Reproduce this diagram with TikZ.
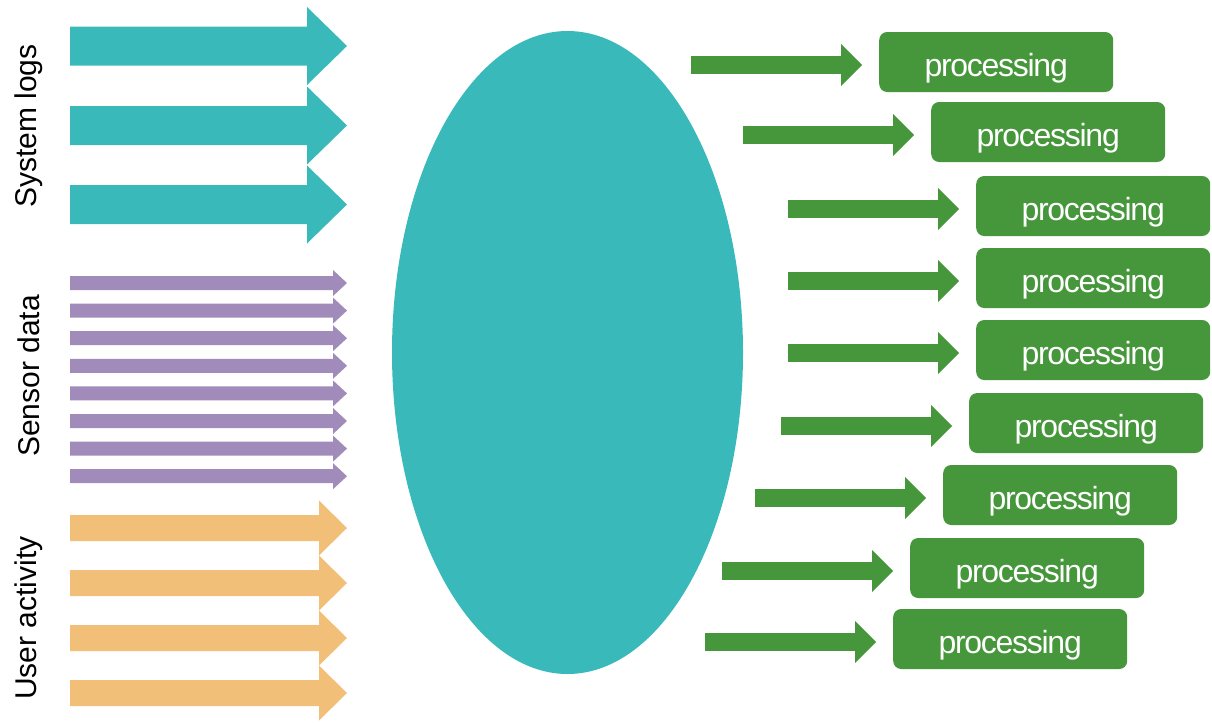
\documentclass[tikz,border=0pt]{standalone}
\usepackage{fontspec}
\setmainfont{Liberation Sans}
\newfontfamily\boxfont[LetterSpace=-4]{Liberation Sans}
\usetikzlibrary{shapes.geometric}
\usetikzlibrary{positioning}
\usetikzlibrary{arrows.meta}

\definecolor{logteal}{HTML}{3AB9BA}
\definecolor{sensorpurple}{HTML}{A08BBA}
\definecolor{activityorange}{HTML}{F2BF79}
\definecolor{procgreen}{HTML}{46973B}

\tikzset{
  grouplabel/.style={rotate=90, inner sep=0pt, font=\fontsize{30}{36}\selectfont},
  procbox/.style={fill=procgreen, rounded corners=8pt, minimum width=234pt,
    minimum height=60pt, inner sep=0pt, text height=29pt, text depth=0pt,
    text=white, font=\boxfont\fontsize{32}{38}\selectfont},
  flow/.style={draw=procgreen, line width=18pt, shorten >=17pt,
    -{Triangle[length=21pt, width=42pt, line width=0pt]}},
}

\begin{document}
\begin{tikzpicture}[x=1pt, y=-1pt]
\clip (0,0) rectangle (1212,723);
\useasboundingbox (0,0) rectangle (1212,723);

% input streams
\node[grouplabel] (logs)   at (29,126) {System logs};
\node[grouplabel] (sensor) at (29,376) {Sensor data};
\node[grouplabel] (user)   at (29,618) {User activity};

\foreach \y in {46,125.5,204.5}
  \fill[logteal] (70,\y-19.5) -- (307,\y-19.5) -- (307,\y-39) -- (347,\y)
    -- (307,\y+39) -- (307,\y+19.5) -- (70,\y+19.5) -- cycle;

\foreach \k in {0,...,7}
  \fill[sensorpurple] (70,283+27.6*\k-7) -- (333,283+27.6*\k-7) -- (333,283+27.6*\k-13)
    -- (347,283+27.6*\k) -- (333,283+27.6*\k+13) -- (333,283+27.6*\k+7)
    -- (70,283+27.6*\k+7) -- cycle;

\foreach \y in {528,583,638,693}
  \fill[activityorange] (70,\y-13) -- (319,\y-13) -- (319,\y-27.5) -- (347,\y)
    -- (319,\y+27.5) -- (319,\y+13) -- (70,\y+13) -- cycle;

% the pool
\node[ellipse, fill=logteal, inner sep=0pt, minimum width=351pt,
  minimum height=643pt] (pool) at (567.5,352.5) {};

% workers
\coordinate (t1) at (691,65);
\coordinate (t2) at (743,135);
\coordinate (t3) at (788,209);
\coordinate (t4) at (788,281);
\coordinate (t5) at (788,353);
\coordinate (t6) at (781,426);
\coordinate (t7) at (755,498);
\coordinate (t8) at (722,571);
\coordinate (t9) at (705,642);

\foreach \i in {1,...,9} {
  \node[procbox, right=188pt of t\i, yshift=3pt] (p\i) {processing};
  \draw[flow] (t\i) -- (p\i.west |- t\i);
}

\end{tikzpicture}
\end{document}
